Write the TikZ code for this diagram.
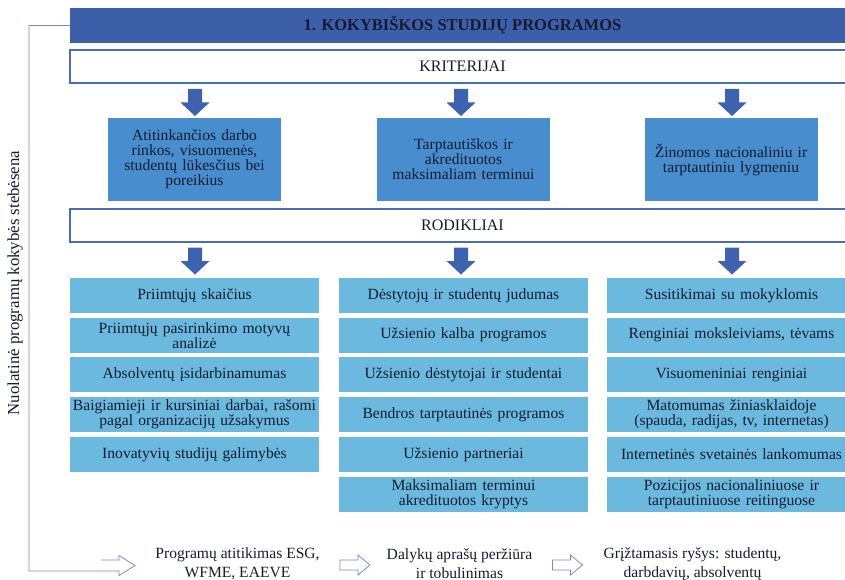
\documentclass[tikz,border=0pt]{standalone}
\usepackage{fontspec}
\setmainfont{Liberation Serif}

\definecolor{titleblue}{RGB}{61,94,168}
\definecolor{lineblue}{RGB}{74,108,180}
\definecolor{critblue}{RGB}{72,141,205}
\definecolor{rowblue}{RGB}{107,185,222}
\definecolor{arrowblue}{RGB}{62,98,176}
\definecolor{loopgray}{RGB}{118,142,188}
\definecolor{inktext}{RGB}{20,28,48}

\tikzset{
  boxfont/.style={font=\fontsize{15.6}{15}\selectfont, text=inktext},
  titlebar/.style={fill=titleblue, minimum width=785pt, minimum height=35pt, inner sep=0pt,
    font=\fontsize{16.5}{18}\selectfont\bfseries, text=inktext},
  levelbar/.style={draw=lineblue, line width=1.6pt, fill=white, minimum width=785pt,
    minimum height=33pt, inner sep=0pt, font=\fontsize{16}{18}\selectfont, text=inktext},
  critbox/.style={boxfont, fill=critblue, minimum width=173pt, minimum height=83pt,
    text width=170pt, align=center, inner sep=0pt},
  rowbox/.style={boxfont, fill=rowblue, minimum width=249pt, minimum height=35pt,
    text width=245pt, align=center, inner sep=0pt},
  stagetext/.style={font=\fontsize{15.6}{19}\selectfont, text=inktext, align=center},
  loopline/.style={draw=loopgray, line width=0.8pt},
  % filled block arrow pointing down
  downblock/.pic={
    \fill[arrowblue] (-7,-13.5) -- (7,-13.5) -- (7,0) -- (14.5,0) -- (0,13.5)
      -- (-14.5,0) -- (-7,0) -- cycle;
  },
  % hollow block arrow pointing right
  hollowblock/.pic={
    \draw[loopline, fill=white] (-15,-5) -- (3,-5) -- (3,-10) -- (15,0) -- (3,10)
      -- (3,5) -- (-15,5) -- cycle;
  }
}

\begin{document}
\begin{tikzpicture}[x=1pt, y=-1pt]
\useasboundingbox (0,0) rectangle (845,580);

% headings
\node[titlebar] (title) at (462.5,25.5) {1. KOKYBIŠKOS STUDIJŲ PROGRAMOS};
\node[levelbar] (krit) at (462.5,66.5) {KRITERIJAI};

\pic at (195,102.5) {downblock};
\pic at (461,102.5) {downblock};
\pic at (732,102.5) {downblock};

% criteria
\node[critbox] (crit1) at (194.5,159.5) {Atitinkančios darbo\\ rinkos, visuomenės,\\ studentų lūkesčius bei\\ poreikius};
\node[critbox] (crit2) at (463.5,159.5) {Tarptautiškos ir\\ akredituotos\\ maksimaliam terminui};
\node[critbox] (crit3) at (731,159.5) {Žinomos nacionaliniu ir\\ tarptautiniu lygmeniu};

\node[levelbar] (rod) at (462.5,225.5) {RODIKLIAI};

\pic at (195,261) {downblock};
\pic at (461,261) {downblock};
\pic at (732,261) {downblock};

% indicators, column 1
\node[rowbox] (a1) at (194.5,295.5) {Priimtųjų skaičius};
\node[rowbox] (a2) at (194.5,335.2) {Priimtųjų pasirinkimo motyvų\\ analizė};
\node[rowbox] (a3) at (194.5,374.9) {Absolventų įsidarbinamumas};
\node[rowbox] (a4) at (194.5,414.6) {Baigiamieji ir kursiniai darbai, rašomi\\ pagal organizacijų užsakymus};
\node[rowbox] (a5) at (194.5,454.3) {Inovatyvių studijų galimybės};

% indicators, column 2
\node[rowbox] (b1) at (463.5,295.5) {Dėstytojų ir studentų judumas};
\node[rowbox] (b2) at (463.5,335.2) {Užsienio kalba programos};
\node[rowbox] (b3) at (463.5,374.9) {Užsienio dėstytojai ir studentai};
\node[rowbox] (b4) at (463.5,414.6) {Bendros tarptautinės programos};
\node[rowbox] (b5) at (463.5,454.3) {Užsienio partneriai};
\node[rowbox] (b6) at (463.5,494) {Maksimaliam terminui\\ akredituotos kryptys};

% indicators, column 3
\node[rowbox] (c1) at (731.5,295.5) {Susitikimai su mokyklomis};
\node[rowbox] (c2) at (731.5,335.2) {Renginiai moksleiviams, tėvams};
\node[rowbox] (c3) at (731.5,374.9) {Visuomeniniai renginiai};
\node[rowbox] (c4) at (731.5,414.6) {Matomumas žiniasklaidoje\\ (spauda, radijas, tv, internetas)};
\node[rowbox] (c5) at (731.5,454.3) {Internetinės svetainės lankomumas};
\node[rowbox] (c6) at (731.5,494) {Pozicijos nacionaliniuose ir\\ tarptautiniuose reitinguose};

% monitoring loop
\node[font=\fontsize{16.8}{19}\selectfont, text=inktext, rotate=90] (monit) at (15,283) {Nuolatinė programų kokybės stebėsena};
\node[stagetext] (prog) at (237.5,564) {Programų atitikimas ESG,\\ WFME, EAEVE};
\pic at (355,565) {hollowblock};
\node[stagetext] (daly) at (459.5,564) {Dalykų aprašų peržiūra\\ ir tobulinimas};
\pic at (567.5,565) {hollowblock};
\node[stagetext] (griz) at (692.5,564) {Grįžtamasis ryšys: studentų,\\ darbdavių, absolventų};

\coordinate (fbturn) at (29,571);
\coordinate (fbtip) at (135,565.5);
\draw[loopline] (title.west) -| (fbturn) -- ([xshift=-16pt,yshift=-5.5pt]fbtip)
  -- ++(0,4.5) -- (fbtip) -- ++(-16,-10) -- ++(0,4.5) -- ++(-18,0);
\end{tikzpicture}
\end{document}
